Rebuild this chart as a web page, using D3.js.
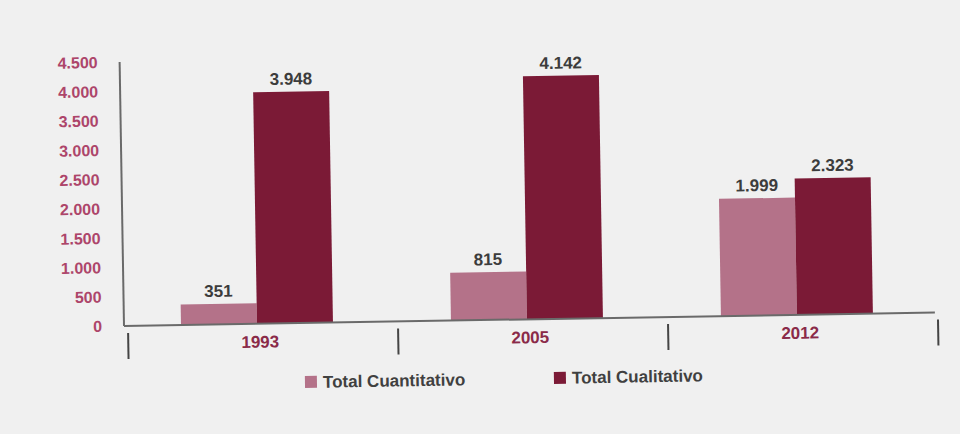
<!DOCTYPE html>
<html><head><meta charset="utf-8">
<script src="https://cdn.jsdelivr.net/npm/d3@7"></script>
<style>
html,body{margin:0;padding:0;background:#f0f0f0;}
svg{display:block;}
text{font-family:"Liberation Sans","Arial",sans-serif;font-weight:bold;}
</style></head>
<body>
<svg id="chart" width="960" height="434"></svg>
<script>
const categories = ["1993", "2005", "2012"];
const seriesNames = ["Total Cuantitativo", "Total Cualitativo"];
const cuantitativo = [351, 815, 1999];
const cualitativo = [3948, 4142, 2323];
const valueLabels = [["351", "815", "1.999"], ["3.948", "4.142", "2.323"]];
const yTicks = [0, 500, 1000, 1500, 2000, 2500, 3000, 3500, 4000, 4500];
const yTickLabels = ["0", "500", "1.000", "1.500", "2.000", "2.500", "3.000", "3.500", "4.000", "4.500"];
const colors = ["#b47289", "#7b1a36"];

const svg = d3.select("#chart");
svg.append("rect").attr("width", 960).attr("height", 434).attr("fill", "#f0f0f0");

const pivot = [125, 326];
const g = svg.append("g").attr("transform", `rotate(-0.95 ${pivot[0]} ${pivot[1]})`);

const x0 = d3.scaleBand().domain(categories).range([125, 935]).padding(0);
const x1 = d3.scaleBand().domain(seriesNames).range([0, 152]).padding(0);
const y = d3.scaleLinear().domain([0, 4500]).range([326, 62]);

const seriesData = [cuantitativo, cualitativo];
const groupOffset = c => x0(c) + (x0.bandwidth() - 152) / 2 - 3;

// y axis line
g.append("line").attr("x1", 124).attr("x2", 124).attr("y1", y(4500)).attr("y2", y(0))
  .attr("stroke", "#6a6a6a").attr("stroke-width", 2);

// y tick labels
g.selectAll(".ytick").data(yTicks).enter().append("text")
  .attr("x", 102).attr("y", d => y(d)).attr("dy", "0.35em")
  .attr("text-anchor", "end").attr("font-size", 16).attr("fill", "#ad456a")
  .text((d, i) => yTickLabels[i]);

// bars
seriesNames.forEach((s, si) => {
  g.selectAll(".bar" + si).data(categories).enter().append("rect")
    .attr("x", c => groupOffset(c) + x1(s))
    .attr("width", x1.bandwidth())
    .attr("y", (c, i) => y(seriesData[si][i]))
    .attr("height", (c, i) => y(0) - y(seriesData[si][i]))
    .attr("fill", colors[si]);
  g.selectAll(".lbl" + si).data(categories).enter().append("text")
    .attr("x", c => groupOffset(c) + x1(s) + x1.bandwidth() / 2)
    .attr("y", (c, i) => y(seriesData[si][i]) - 7)
    .attr("text-anchor", "middle").attr("font-size", 17).attr("fill", "#3c3c3c")
    .text((c, i) => valueLabels[si][i]);
});

// baseline
g.append("line").attr("x1", 124).attr("x2", 935).attr("y1", y(0)).attr("y2", y(0))
  .attr("stroke", "#6a6a6a").attr("stroke-width", 2);

// separators
const seps = categories.map(c => x0(c)).concat([x0.range()[1]]);
g.selectAll(".sep").data(seps).enter().append("line")
  .attr("x1", d => d + 3).attr("x2", d => d + 3).attr("y1", 333).attr("y2", 359)
  .attr("stroke", "#444").attr("stroke-width", 2);

// category labels
g.selectAll(".cat").data(categories).enter().append("text")
  .attr("x", c => x0(c) + x0.bandwidth() / 2).attr("y", 344).attr("dy", "0.35em")
  .attr("text-anchor", "middle").attr("font-size", 17).attr("fill", "#8a2a48")
  .text(c => c);

// legend
const legendX = [304, 553];
seriesNames.forEach((s, si) => {
  g.append("rect").attr("x", legendX[si]).attr("y", 379).attr("width", 12).attr("height", 12)
    .attr("fill", colors[si]);
  g.append("text").attr("x", legendX[si] + 18).attr("y", 385).attr("dy", "0.35em")
    .attr("font-size", 17).attr("fill", "#404040").text(s);
});
</script>
</body></html>
